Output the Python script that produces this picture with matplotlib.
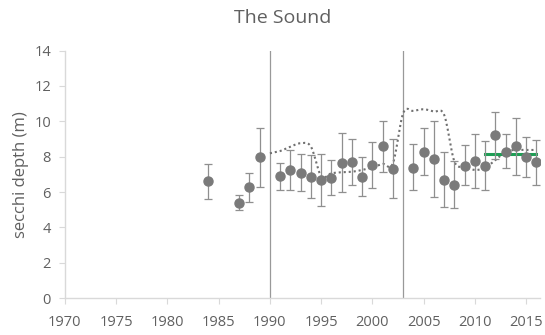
import numpy as np
import matplotlib
matplotlib.use("Agg")
import matplotlib.pyplot as plt

plt.rcParams['font.family'] = ['Open Sans', 'DejaVu Sans']

years = [1984, 1987, 1988, 1989, 1991, 1992, 1993, 1994, 1995, 1996, 1997, 1998,
         1999, 2000, 2001, 2002, 2004, 2005, 2006, 2007, 2008, 2009, 2010, 2011,
         2012, 2013, 2014, 2015, 2016]
secchi = [6.6, 5.4, 6.3, 8.0, 6.9, 7.25, 7.06, 6.83, 6.68, 6.79, 7.64, 7.68,
          6.85, 7.55, 8.61, 7.32, 7.38, 8.28, 7.89, 6.68, 6.40, 7.49, 7.76, 7.49,
          9.23, 8.28, 8.59, 7.98, 7.72]
err_low = [5.6, 5.0, 5.45, 6.3, 6.10, 6.12, 6.06, 5.66, 5.21, 5.83, 6.0, 6.38,
           5.78, 6.21, 7.13, 5.66, 6.10, 6.98, 5.74, 5.13, 5.10, 6.38, 6.21, 6.12,
           7.89, 7.36, 6.98, 6.85, 6.42]
err_high = [7.6, 5.85, 7.1, 9.6, 7.66, 8.38, 8.15, 8.08, 8.15, 7.8, 9.32, 9.0,
            7.97, 8.83, 10.0, 9.0, 8.70, 9.61, 10.04, 8.27, 7.74, 8.65, 9.27, 8.87,
            10.55, 9.29, 10.21, 9.1, 8.95]

trend_years = list(range(1990, 2017))
trend_vals = [8.19, 8.32, 8.57, 8.76, 8.57, 6.9, 7.06, 7.12, 7.15, 7.25, 7.40,
              7.59, 7.63, 10.46, 10.59, 10.68, 10.55, 10.36, 7.72, 7.44, 7.25,
              7.38, 7.81, 8.28, 8.38, 8.38, 8.38]

target_years = [2011, 2016]
target_vals = [8.17, 8.17]

break_years = [1990, 2003]

x_ticks = [1970, 1975, 1980, 1985, 1990, 1995, 2000, 2005, 2010, 2015]
y_ticks = [0, 2, 4, 6, 8, 10, 12, 14]

TXT = '#606060'
GRID = '#d9d9d9'
MARK = '#7a7a7a'


def catmull_rom(xs, ys, n=12):
    xs = np.asarray(xs, float)
    ys = np.asarray(ys, float)
    px = np.concatenate([[2 * xs[0] - xs[1]], xs, [2 * xs[-1] - xs[-2]]])
    py = np.concatenate([[2 * ys[0] - ys[1]], ys, [2 * ys[-1] - ys[-2]]])
    ox, oy = [], []
    for i in range(1, len(px) - 2):
        t = np.linspace(0, 1, n, endpoint=False)
        for p, out in ((px, ox), (py, oy)):
            p0, p1, p2, p3 = p[i - 1], p[i], p[i + 1], p[i + 2]
            out.extend(0.5 * ((2 * p1) + (-p0 + p2) * t
                              + (2 * p0 - 5 * p1 + 4 * p2 - p3) * t ** 2
                              + (-p0 + 3 * p1 - 3 * p2 + p3) * t ** 3))
    ox.append(xs[-1])
    oy.append(ys[-1])
    return np.array(ox), np.array(oy)


fig = plt.figure(figsize=(5.45, 3.35), dpi=100)
ax = fig.add_axes([0.119, 0.110, 0.871, 0.739])

for by in break_years:
    ax.axvline(by, color='#999999', lw=0.9, zorder=1)

sx, sy = catmull_rom(trend_years, trend_vals)
ax.plot(sx, sy, color='#707070', lw=1.5, ls=(0, (1, 1.4)), zorder=2)

yerr = [np.array(secchi) - np.array(err_low), np.array(err_high) - np.array(secchi)]
ax.errorbar(years, secchi, yerr=yerr, fmt='o', color=MARK, ms=6.5,
            ecolor='#8f8f8f', elinewidth=0.9, capsize=3, capthick=0.9, zorder=4)

ax.plot(target_years, target_vals, color='#1f9e55', lw=2.2, zorder=3)

ax.set_xlim(1970, 2016.3)
ax.set_ylim(0, 14)
ax.set_xticks(x_ticks)
ax.set_yticks(y_ticks)
ax.tick_params(axis='both', colors=GRID, labelcolor=TXT, labelsize=10.5, length=4)
ax.tick_params(axis='x', pad=8)
ax.tick_params(axis='y', pad=6)
for s in ('top', 'right'):
    ax.spines[s].set_visible(False)
for s in ('left', 'bottom'):
    ax.spines[s].set_color(GRID)
    ax.spines[s].set_linewidth(1.0)

ax.set_ylabel('secchi depth (m)', color=TXT, fontsize=12, labelpad=4)
fig.text(0.519, 0.945, 'The Sound', color=TXT, fontsize=14, ha='center', va='center')

fig.savefig('out.png', dpi=100)
